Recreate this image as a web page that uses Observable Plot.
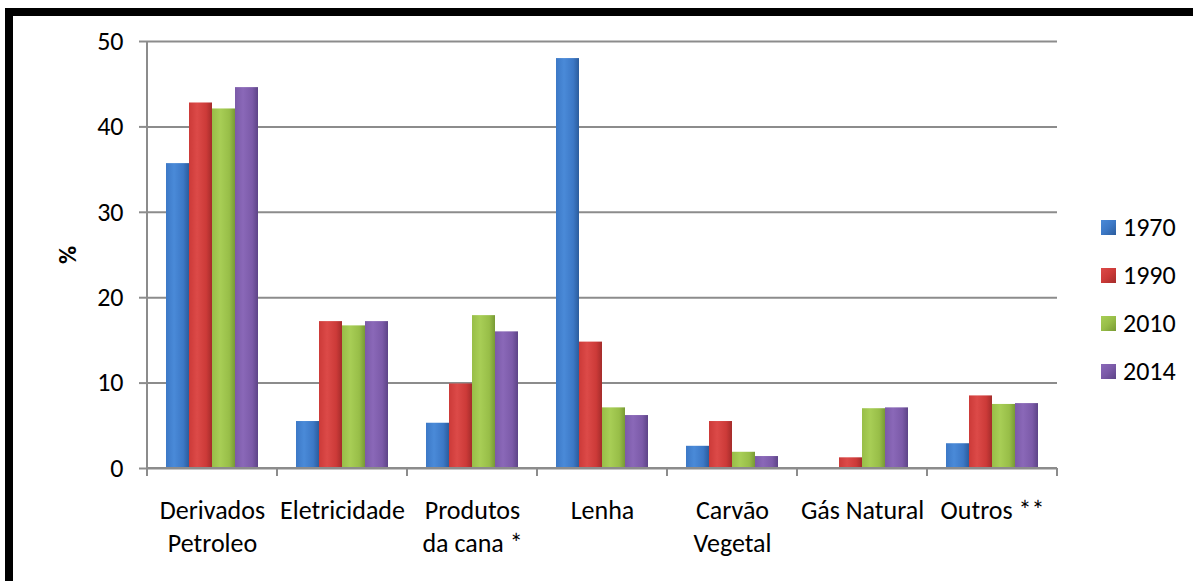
<!DOCTYPE html>
<html><head><meta charset="utf-8">
<script src="https://cdn.jsdelivr.net/npm/d3@7"></script>
<script src="https://cdn.jsdelivr.net/npm/@observablehq/plot@0.6"></script>
<style>
body{margin:0;width:1193px;height:581px;overflow:hidden;background:#fff;font-family:Carlito,"Liberation Sans",Arial,sans-serif;position:relative}
#frame{position:absolute;left:5px;top:8px;width:1400px;height:800px;border:8px solid #000;box-sizing:border-box}
#chart{position:absolute;left:0;top:0}
#ylabel{position:absolute;left:67px;top:255px;transform:translate(-50%,-50%) rotate(-90deg);font-weight:bold;font-size:25px}
#legend{position:absolute;left:1101px;top:203px}
.item{display:flex;align-items:center;height:48px;font-size:26px}
.sw{width:15px;height:15px;margin-right:7px}
</style></head>
<body>
<svg width="0" height="0" style="position:absolute"><defs id="defs"></defs></svg>
<div id="frame"></div>
<div id="chart"></div>
<div id="ylabel">%</div>
<div id="legend"></div>
<script>
const categories = ["Derivados Petroleo","Eletricidade","Produtos da cana *","Lenha","Carvão Vegetal","Gás Natural","Outros **"];
const categoryLabels = ["Derivados\nPetroleo","Eletricidade","Produtos\nda cana *","Lenha","Carvão\nVegetal","Gás Natural","Outros **"];
const years = ["1970","1990","2010","2014"];
const v1970 = [35.7, 5.5, 5.3, 48.0, 2.6, 0, 2.9];
const v1990 = [42.8, 17.2, 9.9, 14.8, 5.5, 1.25, 8.5];
const v2010 = [42.1, 16.7, 17.9, 7.1, 1.9, 7.0, 7.5];
const v2014 = [44.6, 17.2, 16.0, 6.2, 1.4, 7.1, 7.6];
const yTicks = [0, 10, 20, 30, 40, 50];
const colors = ["#3c78c6", "#cc3a38", "#98be48", "#7b5aa8"];
const lightColors = ["#4a8ad8", "#dc4a48", "#a8ce56", "#8a68b8"];
const darkColors = ["#2b5c9c", "#a42c2b", "#789a34", "#5d4487"];

const series = [v1970, v1990, v2010, v2014];
const data = [];
years.forEach((yr, j) => categories.forEach((c, i) => data.push({category: c, year: yr, value: series[j][i]})));

// gradients
const defs = d3.select("#defs");
years.forEach((yr, j) => {
  const g = defs.append("linearGradient").attr("id", "g" + yr).attr("x1", "0").attr("x2", "1").attr("y1", "0").attr("y2", "0");
  g.append("stop").attr("offset", "0").attr("stop-color", colors[j]);
  g.append("stop").attr("offset", "0.35").attr("stop-color", lightColors[j]);
  g.append("stop").attr("offset", "0.75").attr("stop-color", colors[j]);
  g.append("stop").attr("offset", "1").attr("stop-color", darkColors[j]);
});

const font = 'Carlito,"Liberation Sans",Arial,sans-serif';
const chart = Plot.plot({
  width: 1193, height: 581,
  marginLeft: 146, marginRight: 135, marginTop: 41, marginBottom: 113,
  style: {fontFamily: font, fontSize: "26px", color: "#000", background: "transparent"},
  fx: {domain: categories, padding: 0, label: null},
  x: {domain: years, paddingInner: 0, paddingOuter: 0.74, axis: null},
  y: {domain: [0, 50], label: null},
  color: {domain: years, range: years.map(y => `url(#g${y})`)},
  marks: [
    Plot.gridY(yTicks, {stroke: "#8c8c8c", strokeOpacity: 1, strokeWidth: 2}),
    Plot.barY(data, {fx: "category", x: "year", y: "value", fill: "year"}),
    Plot.axisY(yTicks, {tickSize: 8, tickPadding: 16, fontSize: 26, stroke: "#8c8c8c", strokeWidth: 2, label: null}),
    Plot.axisFx({anchor: "bottom", tickSize: 0, tickPadding: 27, fontSize: 26, lineHeight: 1.27, label: null,
      tickFormat: d => categoryLabels[categories.indexOf(d)]})
  ]
});
document.getElementById("chart").appendChild(chart);

// axis line, baseline and category boundary ticks, positioned via Plot's scales
const fx = chart.scale("fx"), y = chart.scale("y");
const svg = d3.select(chart);
const y0 = y.apply(0), yTop = y.apply(50);
const left = fx.apply(categories[0]);
const right = fx.apply(categories[categories.length - 1]) + fx.bandwidth;
const g = svg.append("g").attr("stroke", "#8c8c8c").attr("stroke-width", 2);
g.append("line").attr("x1", left).attr("x2", left).attr("y1", yTop).attr("y2", y0 + 8);
g.append("line").attr("x1", left).attr("x2", right).attr("y1", y0).attr("y2", y0);
categories.forEach(c => {
  const xb = fx.apply(c) + fx.bandwidth;
  g.append("line").attr("x1", xb).attr("x2", xb).attr("y1", y0).attr("y2", y0 + 8);
});

// legend
const legend = d3.select("#legend");
years.forEach((yr, j) => {
  const it = legend.append("div").attr("class", "item");
  it.append("div").attr("class", "sw").style("background", `linear-gradient(135deg, ${lightColors[j]}, ${colors[j]} 50%, ${darkColors[j]})`);
  it.append("span").text(yr);
});
</script>
</body></html>
